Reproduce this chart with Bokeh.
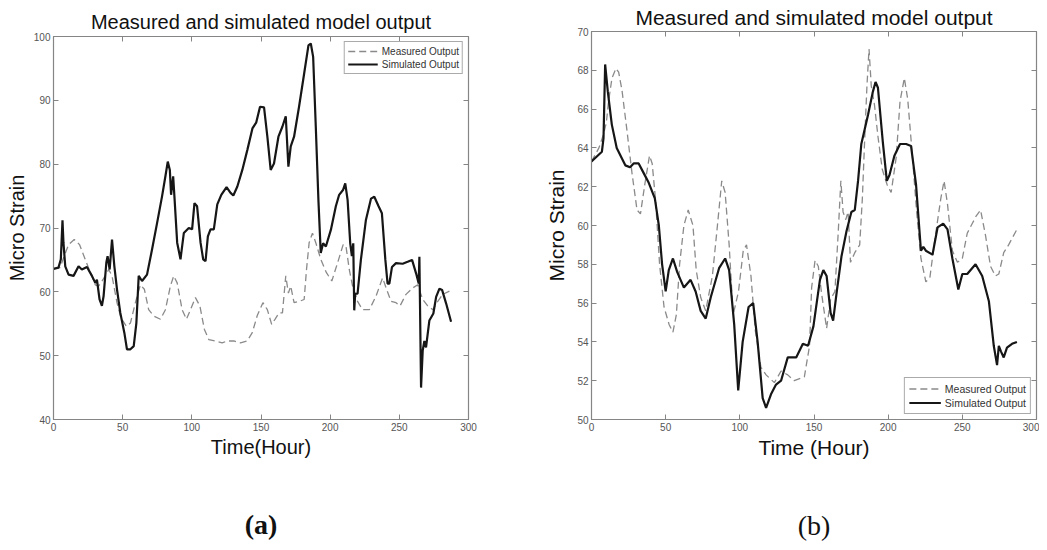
from bokeh.plotting import figure
from bokeh.models import LinearAxis, FixedTicker, Legend, LegendItem, Title, Range1d
from bokeh.layouts import row, column
from bokeh.embed import file_html
from bokeh.resources import INLINE

# ---------------- data (a) ----------------
sim_a_x = [0, 3.6, 5.3, 6.5, 7.2, 8.5, 10.9, 14.5, 18.1, 20.5, 24.2, 27.8, 30.2, 31.4, 33.3, 35, 36.2, 38.2, 39.1, 40.6,
           42.3, 44, 45.9, 48.3, 51.2, 53.1, 55.6, 58, 59.9, 61.6, 64, 67.6, 71.3, 74.9, 78.5, 80.9, 82.6, 84.1, 85, 86.5,
           87.4, 89.4, 91.8, 94.2, 97.8, 100.2, 101.9, 103.8, 106.3, 108.2, 109.9, 111.6, 113.5, 115.9, 118.4, 121.3, 125.1, 128, 130, 132.9,
           136.5, 140.1, 143.8, 146.5, 149.3, 152.2, 154.6, 157, 159.4, 162.6, 165.5, 167.9, 169.8, 171.5, 173.9, 177.5, 181.2, 184.3, 186, 187.7,
           189.6, 191.5, 193.2, 194.9, 196.9, 200.5, 204.1, 206.5, 209.4, 210.9, 212.6, 214.5, 215.7, 216.7, 217.4, 218.1, 219.8, 222.2, 225.8, 229.5,
           231.9, 235, 237.4, 239.9, 241.5, 242.8, 244.7, 247.6, 252.4, 256, 259.2, 262.1, 264, 264.5, 265.7, 266.9, 268.1, 269.3, 271.7, 274.6,
           276.6, 279, 280.9, 283.8, 287.4]
sim_a_y = [63.6, 63.8, 65.1, 71.2, 67.7, 64, 62.7, 62.5, 64, 63.5, 63.9, 62.5, 61.4, 61.9, 58.8, 57.8, 59.3, 64.6, 65.6, 63.5,
           68.2, 64, 60.4, 56.7, 53.6, 51, 51, 51.5, 55.1, 62.5, 61.7, 62.7, 66.7, 70.8, 75, 78.1, 80.4, 79.1, 75.2, 78.1,
           75, 67.7, 65.1, 69.2, 70, 69.8, 73.9, 73.4, 67.7, 65.1, 64.8, 68.7, 69.8, 69.8, 73.7, 75.2, 76.4, 75.5, 75.1, 76.5,
           79.1, 82.2, 85.6, 86.5, 89, 88.9, 84.3, 79.1, 80.1, 84.3, 85.9, 87.5, 79.6, 82.8, 84.3, 89, 94.2, 98.6, 98.9, 96.8,
           85.9, 74.4, 66.1, 67.6, 67.1, 69.7, 73.4, 75.2, 76, 77, 74.4, 67.6, 65.6, 67.6, 57.1, 59.7, 59.7, 65, 71.2, 74.6,
           74.9, 73.4, 72.3, 65, 61.3, 61.3, 63.9, 64.5, 64.4, 64.7, 65, 62.9, 61.3, 65.5, 45, 50.8, 52.3, 51.3, 55.5, 56.6,
           59.2, 60.5, 60.3, 58.2, 55.3]

meas_a_x = [0, 4.8, 7.7, 10.9, 15, 18.8, 22.9, 26.6, 30.2, 32.6, 35.7, 39.9, 42.3, 45.9, 48.8, 52.7, 55.6, 59.2, 62.8, 65.7,
            68.8, 72.5, 77.3, 80.9, 84.5, 86.9, 89.4, 93, 96.1, 99, 102.6, 105.8, 109.1, 112.3, 117.1, 121.9, 125.6, 130.4, 135.2, 140,
            143.7, 147.3, 151.4, 154.6, 157.7, 160.1, 163, 165.5, 167.9, 169.8, 171.5, 173.9, 177.5, 181.2, 182.9, 184.8, 187.2, 189.6, 193.2, 197.3,
            201.2, 205.3, 209.4, 211.4, 213.8, 216.2, 219.8, 223.4, 228.3, 233.1, 237.9, 240.8, 244, 247.6, 250.5, 254.8, 259.7, 263.3, 266.9, 270.5,
            274.2, 277.8, 281.4, 286.2]
meas_a_y = [63.6, 63.8, 65.6, 67.4, 68.2, 67.4, 65.1, 63, 61.1, 60.9, 61.9, 63.5, 62.5, 58.3, 55.9, 54.6, 55.1, 58.3, 61.1, 60.4,
            57.2, 56.2, 55.7, 57.2, 60.9, 62.5, 61.4, 57.2, 55.7, 57.2, 59.1, 57.8, 54.1, 52.5, 52.3, 52, 52.3, 52.3, 52, 52.3,
            53.6, 56.3, 58.3, 57.2, 54.9, 55.7, 56.7, 56.7, 62.5, 59.8, 60.9, 58.3, 58.5, 58.8, 63.5, 67.7, 69.2, 67.7, 65.1, 63,
            61.7, 64.5, 67.4, 67.2, 63.5, 60.9, 58.5, 57.2, 57.2, 59.3, 62.2, 60.4, 58.5, 58.3, 57.8, 59.6, 60.6, 61.1, 58.8, 57.8,
            57.2, 58.5, 59.6, 60.1]

# ---------------- data (b) ----------------
sim_b_x = [0, 7, 8.1, 9.2, 11, 13.7, 17, 22.8, 26, 28.4, 31.8, 35.2, 38.6, 42.7, 45.4, 47.6, 50, 52.1, 54.9, 57.8,
           62.3, 66.8, 70.2, 73.6, 77, 80.4, 86, 90.1, 92.8, 96.2, 98.9, 101.9, 105.9, 109, 112, 115.4, 117.7, 121, 124.4, 127.8,
           132.3, 138, 142.5, 146, 149.6, 154, 156.3, 158.5, 161.2, 162.9, 165.2, 168.5, 171.9, 175.2, 177.5, 179.7, 181.9, 186.4, 189.7, 191.5,
           193.1, 196.4, 199.1, 200.9, 204.2, 208, 212.1, 215.4, 218.8, 222.1, 223.7, 225.4, 229.9, 233.3, 237.1, 240, 243.3, 247.3, 250, 253.3,
           258.9, 263.4, 267.9, 271.2, 273.4, 274.6, 276.1, 277.9, 280.1, 283.5, 286.8]
sim_b_y = [63.3, 63.8, 64.5, 68.3, 66.9, 65.2, 64, 63.1, 63, 63.2, 63.2, 62.7, 62.2, 61.4, 60, 58, 56.6, 57.7, 58.3, 57.6,
           56.8, 57.2, 56.6, 55.6, 55.2, 56.3, 57.8, 58.3, 57.7, 54.9, 51.5, 54, 55.8, 56, 54, 51.1, 50.6, 51.3, 51.8, 52,
           53.2, 53.2, 53.9, 53.8, 54.8, 57.2, 57.7, 57.4, 55.5, 55.1, 56.5, 58.4, 59.7, 60.7, 60.8, 62.3, 64.2, 65.7, 66.9, 67.4,
           67.1, 64.3, 62.3, 62.6, 63.6, 64.2, 64.2, 64.1, 62.1, 58.7, 58.9, 58.7, 58.5, 59.9, 60.1, 59.8, 58.3, 56.7, 57.5, 57.5,
           58, 57.4, 56.1, 53.8, 52.8, 53.8, 53.5, 53.2, 53.7, 53.9, 54]

meas_b_x = [0, 5, 8.1, 10, 11.5, 13.8, 16.5, 18.3, 20.5, 23.9, 27.3, 30.7, 33, 35.9, 39.1, 40.9, 43.2, 45.9, 48.9, 52.3,
            54.9, 57.2, 59.4, 62.3, 65.2, 68.4, 70.6, 73.6, 77, 81.5, 84.9, 87.8, 90.1, 92.8, 95.5, 99.1, 102.3, 104.5, 107.5, 110.4,
            114.2, 117.7, 123.3, 127.8, 132.3, 136.7, 143.5, 147, 148.4, 150.7, 152.9, 155.1, 158.5, 161.2, 164.1, 166.3, 168.1, 169.6, 171.4, 173,
            174.6, 177.5, 180.8, 182.6, 184.2, 185.7, 187.1, 188.6, 190.8, 193.1, 196, 199.3, 202, 205.4, 208, 210.9, 213.2, 216.1, 219.2, 222.1,
            225.4, 228.1, 231.7, 235.5, 237.7, 240, 243.3, 246.7, 250, 253.3, 256.7, 259.4, 262.3, 265.6, 269, 272.3, 274.6, 277.9, 281.2, 287.5]
meas_b_y = [63.3, 64, 64.7, 65.3, 66.4, 67.6, 68.1, 67.9, 67, 64.9, 62.7, 60.8, 60.6, 62.1, 63.6, 63.2, 61.3, 58, 55.8, 54.9,
            54.5, 55.4, 58, 60, 60.8, 60, 57.7, 56.3, 55.6, 57.4, 60, 62.3, 61.7, 59, 55.4, 56.6, 58.7, 59, 57.4, 54.6,
            52.7, 52.3, 51.9, 52.5, 52.3, 52, 52.2, 53.8, 56.8, 58.2, 57.9, 56.5, 54.7, 56.2, 56.6, 59.6, 62.3, 60.7, 60.3, 60.7,
            58.1, 58.6, 59, 61.4, 64.5, 67.2, 69.1, 67.2, 66.2, 64.6, 62.9, 62.1, 61.7, 63.5, 66.4, 67.6, 66.5, 63.8, 60.7, 58.3,
            57.1, 57.3, 59.4, 61.4, 62.3, 61.1, 58.7, 58.1, 58.3, 59.6, 60.1, 60.5, 60.8, 59.5, 57.9, 57.4, 57.5, 58.6, 59, 59.9]

x_ticks = [0, 50, 100, 150, 200, 250, 300]
y_ticks_a = [40, 50, 60, 70, 80, 90, 100]
y_ticks_b = [50, 52, 54, 56, 58, 60, 62, 64, 66, 68, 70]

title_text = "Measured and simulated model output"
legend_labels = ["Measured Output", "Simulated Output"]

SANS = "Liberation Sans"
SERIF = "Liberation Serif"
FRAME = "#858585"
TICKLAB = "#555555"


def make_panel(xs_m, ys_m, xs_s, ys_s, yrange, yticks, xlabel, caption, caption_bold,
               fw, fh, bl, br, bt, fs, title_off, ylab_off, cap_off,
               leg_loc, leg_font, leg_glyph, leg_pad, leg_h):
    p = figure(frame_width=fw, frame_height=fh, output_backend="svg", toolbar_location=None,
               x_range=Range1d(0, 300), y_range=Range1d(*yrange),
               min_border_left=bl, min_border_right=br, min_border_top=bt, min_border_bottom=10,
               background_fill_color="white", border_fill_color="white")
    p.outline_line_color = FRAME
    p.outline_line_width = 1.2
    p.grid.visible = False

    p.title.text = title_text
    p.title.text_font = SANS
    p.title.text_font_size = f"{fs}px"
    p.title.text_font_style = "normal"
    p.title.text_color = "#111111"
    p.title.align = "center"
    p.title.standoff = title_off

    for ax, ticks in ((p.xaxis[0], x_ticks), (p.yaxis[0], yticks)):
        ax.ticker = FixedTicker(ticks=ticks)
        ax.axis_line_color = FRAME
        ax.major_tick_line_color = FRAME
        ax.major_tick_in = 5
        ax.major_tick_out = 0
        ax.minor_tick_line_color = None
        ax.major_label_text_font = SANS
        ax.major_label_text_font_size = "10px"
        ax.major_label_text_color = TICKLAB
        ax.axis_label_text_font = SANS
        ax.axis_label_text_font_style = "normal"
        ax.axis_label_text_color = "#111111"
        ax.axis_label_text_font_size = f"{fs}px"
    p.xaxis.axis_label = xlabel
    p.yaxis.axis_label = "Micro Strain"
    p.xaxis.major_label_standoff = 3
    p.xaxis.axis_label_standoff = 2
    p.yaxis.major_label_standoff = 3
    p.yaxis.axis_label_standoff = ylab_off

    for side, ticks in (("above", x_ticks), ("right", yticks)):
        ax = LinearAxis(ticker=FixedTicker(ticks=ticks))
        ax.axis_line_color = None
        ax.major_tick_line_color = FRAME
        ax.major_tick_in = 5
        ax.major_tick_out = 0
        ax.minor_tick_line_color = None
        ax.major_label_text_alpha = 0
        ax.major_label_text_font_size = "1px"
        ax.major_label_standoff = 0
        p.add_layout(ax, side)

    rm = p.line(xs_m, ys_m, line_color="#8a8a8a", line_width=1.3, line_dash="7 4")
    rs = p.line(xs_s, ys_s, line_color="#161616", line_width=2.2)

    leg = Legend(items=[LegendItem(label=legend_labels[0], renderers=[rm]),
                        LegendItem(label=legend_labels[1], renderers=[rs])],
                 location=leg_loc)
    leg.label_text_font = SANS
    leg.label_text_font_size = f"{leg_font}px"
    leg.label_text_color = "#333333"
    leg.border_line_color = "#555555"
    leg.border_line_width = 1
    leg.background_fill_color = "white"
    leg.glyph_width = leg_glyph
    leg.glyph_height = leg_h
    leg.label_height = leg_h
    leg.label_standoff = 4
    leg.spacing = 1
    leg.padding = leg_pad
    leg.margin = 5
    p.add_layout(leg)

    cap = Title(text=caption, align="center", text_font=SERIF, text_font_size="28px",
                text_font_style="bold" if caption_bold else "normal", text_color="#111111",
                standoff=cap_off)
    p.add_layout(cap, "below")
    return p


pa = make_panel(meas_a_x, meas_a_y, sim_a_x, sim_a_y, (40, 100), y_ticks_a, "Time(Hour)", "(a)", True,
                415, 383, 53, 61, 36, 20, 7, 3, 93, "top_right", 10, 30, 3, 12)
pb = make_panel(meas_b_x, meas_b_y, sim_b_x, sim_b_y, (50, 70), y_ticks_b, "Time (Hour)", "(b)", False,
                445, 388, 62, 3, 31, 21, 5, 6, 93, "bottom_right", 10.5, 32, 4, 13)

layout = row(column(pa), column(pb))
open("out.html", "w").write(file_html(layout, INLINE))
